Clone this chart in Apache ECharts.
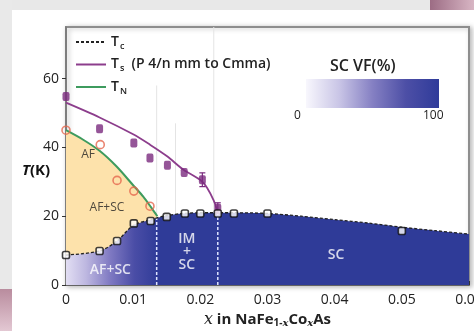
<!DOCTYPE html>
<html><head><meta charset="utf-8">
<script src="https://cdn.jsdelivr.net/npm/echarts@6/dist/echarts.min.js"></script>
<style>html,body{margin:0;padding:0;background:#fff}#c{width:474px;height:331px}</style>
</head><body><div id="c"></div>
<script>
// ---- data ----
const xTickValues = [0, 0.01, 0.02, 0.03, 0.04, 0.05, 0.06];
const xTickLabels = ['0', '0.01', '0.02', '0.03', '0.04', '0.05', '0.06'];
const yTickValues = [0, 20, 40, 60];
const yTickLabels = ['0', '20', '40', '60'];

const tcPoints = [[0,8.7],[0.005,9.9],[0.0076,12.8],[0.0101,17.9],[0.0126,18.6],[0.015,19.8],[0.0177,20.8],[0.02,20.8],[0.0226,20.8],[0.025,20.8],[0.03,20.8],[0.05,15.7]];
const tcCurve = [[0,8.7],[0.005,9.9],[0.0076,12.8],[0.01,17.3],[0.0126,19.0],[0.015,20.2],[0.0175,20.8],[0.02,21],[0.025,21],[0.03,20.8],[0.035,20],[0.04,19],[0.045,18],[0.05,16.8],[0.055,15.8],[0.06,14.8]];
const tsPoints = [[0,54.8],[0.005,45.4],[0.0101,41.3],[0.0125,36.9],[0.0151,34.8],[0.0176,32.7],[0.0203,30.6],[0.0226,22.3]];
const tsErrors = [[0.0203,30.6,2.0],[0.0226,22.3,1.6]];
const tsCurve = [[0,53],[0.005,48.7],[0.01,43.8],[0.0125,40.8],[0.015,37.5],[0.0175,33.5],[0.02,30.5],[0.021,28.3],[0.022,24.5],[0.0226,21]];
const tnPoints = [[0,45],[0.0051,40.8],[0.0076,30.4],[0.0101,27.3],[0.0125,22.9]];
const tnCurve = [[0,45],[0.0025,42.3],[0.005,39],[0.0075,34.5],[0.01,29],[0.0115,25.7],[0.0127,22.5],[0.0136,20]];
const phaseBoundaries = [[0.0135,19.4],[0.0226,21]];
const faintLines = [[0.0135,20,58],[0.0163,20,47],[0.022,21,75]];
const whiteLabelText = ['AF+SC', 'IM\n+\nSC', 'SC'];
const whiteLabelPos = [[0.0066,4.4],[0.018,9.6],[0.0402,8.7]];
const darkLabelText = ['AF', 'AF+SC'];
const darkLabelPos = [[0.0033,37.8],[0.0061,22.4]];
const colorbarLabels = ['0', '100'];

// ---- styles ----
const FONT = 'Open Sans';
const BLUE = '#2f3b98';
const PURPLE_LINE = '#8c3d8c';
const PURPLE_DOT = '#7a2a7e';
const GREEN = '#3e9b5e';
const ORANGE_PT = '#e5674d';
const ORANGE_FILL = '#fde2ab';

const chart = echarts.init(document.getElementById('c'), null, {renderer: 'canvas'});
const G = echarts.graphic;

function tickFmt(vals, labels) {
  return v => { const i = vals.findIndex(t => Math.abs(t - v) < 1e-9); return i >= 0 ? labels[i] : ''; };
}

const series = [];
series.push({type:'line', data: tnCurve, smooth: 0.3, symbol:'none', z:1,
  lineStyle:{opacity:0}, areaStyle:{color: ORANGE_FILL, opacity:1}, silent:true});
series.push({type:'line', data: tcCurve, smooth: 0.3, symbol:'none', z:2,
  lineStyle:{opacity:0},
  areaStyle:{opacity:1, color: new G.LinearGradient(0,0,1,0,[
    {offset:0, color:'#e2def3'},
    {offset:0.05, color:'#bdb7e0'},
    {offset:0.11, color:'#7f79c2'},
    {offset:0.17, color:'#4a4da6'},
    {offset:0.23, color:BLUE},
    {offset:1, color:BLUE}])}, silent:true});
phaseBoundaries.forEach(b => series.push({type:'line', data:[[b[0],0],[b[0],b[1]]], symbol:'none', z:3,
  lineStyle:{color:'#dfe4ff', width:1.5, type:[3,2]}, silent:true}));
faintLines.forEach(b => series.push({type:'line', data:[[b[0],b[1]],[b[0],b[2]]], symbol:'none', z:1,
  lineStyle:{color:'#e4e4e4', width:1}, silent:true}));
series.push({name:'Tc', type:'line', data: tcCurve, smooth:0.3, symbol:'none', z:4,
  itemStyle:{color:'#222'}, lineStyle:{color:'#222', width:1.3, type:[3,2]}});
series.push({name:'Ts', type:'line', data: tsCurve, smooth:0.3, symbol:'none', z:4,
  itemStyle:{color:PURPLE_LINE}, lineStyle:{color:PURPLE_LINE, width:1.8}});
series.push({name:'TN', type:'line', data: tnCurve, smooth:0.3, symbol:'none', z:4,
  itemStyle:{color:GREEN}, lineStyle:{color:GREEN, width:2}});
series.push({type:'custom', data: tsErrors, z:5, encode:{x:0,y:1},
  renderItem: (params, api) => {
    const x = api.value(0), y = api.value(1), e = api.value(2);
    const t = api.coord([x, y + e]), b = api.coord([x, y - e]);
    const w = 3, st = {stroke: PURPLE_DOT, lineWidth: 1.2};
    return {type:'group', children:[
      {type:'line', shape:{x1:t[0],y1:t[1],x2:b[0],y2:b[1]}, style:st},
      {type:'line', shape:{x1:t[0]-w,y1:t[1],x2:t[0]+w,y2:t[1]}, style:st},
      {type:'line', shape:{x1:b[0]-w,y1:b[1],x2:b[0]+w,y2:b[1]}, style:st}]};
  }});
series.push({type:'scatter', data: tsPoints, symbol:'roundRect', symbolSize:[7,9], z:6,
  itemStyle:{color:PURPLE_DOT}});
series.push({type:'scatter', data: tnPoints, symbol:'circle', symbolSize:8, z:6,
  itemStyle:{color:'rgba(0,0,0,0)', borderColor:ORANGE_PT, borderWidth:1.6}});
series.push({type:'scatter', data: tcPoints, symbol:'roundRect', symbolSize:7, z:6,
  itemStyle:{color:'#fff', borderColor:'#111', borderWidth:1.6}});
series.push({type:'scatter', symbolSize:0, z:7, silent:true,
  data: whiteLabelPos.map((p,i)=>({value:p, name:whiteLabelText[i]})),
  label:{show:true, position:'inside', formatter: p => p.name, color:'#fff',
    fontFamily:FONT, fontWeight:600, fontSize:14, lineHeight:13, align:'center', verticalAlign:'middle'}});
series.push({type:'scatter', symbolSize:0, z:7, silent:true,
  data: darkLabelPos.map((p,i)=>({value:p, name:darkLabelText[i]})),
  label:{show:true, position:'inside', formatter: p => p.name, color:'#222',
    fontFamily:FONT, fontWeight:400, fontSize:12, align:'center', verticalAlign:'middle'}});

const legendNames = {Tc:'{t|T}{s|c}', Ts:'{t|T}{s|s}{t|  (P 4/n mm to Cmma)}', TN:'{t|T}{s|N}'};

const option = {
  animation:false,
  backgroundColor:'#fff',
  grid:{left:66, right:5, top:27, bottom:46, outerBoundsMode:'none', containLabel:false,
    show:true, borderColor:'#8e8e8e', borderWidth:2,
    backgroundColor:'#fff', shadowColor:'rgba(0,0,0,0.25)', shadowBlur:5, shadowOffsetX:2, shadowOffsetY:1},
  xAxis:{type:'value', min:0, max:0.06, interval:0.01,
    axisLine:{show:true, onZero:false, lineStyle:{color:'#555', width:1.5}},
    axisTick:{show:true, inside:true, length:4, lineStyle:{color:'#333'}},
    splitLine:{show:false},
    axisLabel:{formatter: tickFmt(xTickValues, xTickLabels), color:'#222', fontFamily:FONT, fontSize:14, margin:8, showMaxLabel:true, hideOverlap:false},
    name:'{i|x}{b| in NaFe}{s|1-}{si|x}{b|Co}{si|x}{b|As}', nameLocation:'middle', nameGap:27,
    nameTextStyle:{rich:{
      i:{fontFamily:'DejaVu Serif', fontStyle:'italic', fontSize:16, color:'#222'},
      b:{fontFamily:FONT, fontWeight:700, fontSize:15, color:'#222'},
      s:{fontFamily:FONT, fontWeight:700, fontSize:10, color:'#222', padding:[6,0,0,0]},
      si:{fontFamily:'DejaVu Serif', fontStyle:'italic', fontWeight:700, fontSize:10, color:'#222', padding:[6,0,0,0]}}}},
  yAxis:{type:'value', min:0, max:75, interval:20,
    axisLine:{show:true, lineStyle:{color:'#777', width:1.5}},
    axisTick:{show:true, inside:false, length:4, lineStyle:{color:'#333'}},
    splitLine:{show:false},
    axisLabel:{formatter: tickFmt(yTickValues, yTickLabels), color:'#222', fontFamily:FONT, fontSize:14, margin:7, showMaxLabel:false}},
  legend:{data:['Tc','Ts','TN'], orient:'vertical', left:75, top:35, padding:0,
    itemWidth:30, itemHeight:14, itemGap:7,
    itemStyle:{opacity:0},
    formatter: n => legendNames[n],
    textStyle:{rich:{
      t:{fontFamily:FONT, fontWeight:600, fontSize:14, color:'#222', lineHeight:16},
      s:{fontFamily:FONT, fontWeight:600, fontSize:9, color:'#222', padding:[8,0,0,1]}}}},
  graphic:[
    {type:'rect', z:-100, shape:{x:0,y:0,width:474,height:10}, style:{fill:'#e8e8e8'}, silent:true},
    {type:'rect', z:-100, shape:{x:0,y:0,width:12,height:331}, style:{fill:'#e9e9e9'}, silent:true},
    {type:'rect', z:-99, shape:{x:0,y:289,width:12,height:42},
      style:{fill:new G.LinearGradient(0,0,0,1,[{offset:0,color:'#b98c9e'},{offset:1,color:'#e3c8d3'}])}, silent:true},
    {type:'rect', z:-99, shape:{x:430,y:0,width:44,height:10},
      style:{fill:new G.LinearGradient(0,0,1,0,[{offset:0,color:'#9c6c84'},{offset:1,color:'#d8b6c4'}])}, silent:true},
    {type:'rect', z:10, shape:{x:306,y:79,width:133,height:29},
      style:{fill:new G.LinearGradient(0,0,1,0,[
        {offset:0,color:'#f8f7fd'},{offset:0.25,color:'#c9c5e6'},{offset:0.5,color:'#8580c3'},
        {offset:0.75,color:'#4d4fa6'},{offset:1,color:'#2f3b9a'}])}, silent:true},
    {type:'text', z:10, left:330, top:58, style:{text:'SC VF(%)', fill:'#222', font:'600 16px "Open Sans"'}},
    {type:'text', z:10, left:294, top:110, style:{text:colorbarLabels[0], fill:'#222', font:'12px "Open Sans"'}},
    {type:'text', z:10, left:423, top:110, style:{text:colorbarLabels[1], fill:'#222', font:'12px "Open Sans"'}},
    {type:'text', z:10, left:22, top:163, style:{text:'{i|T}{b|(K)}', rich:{
      i:{font:'italic 700 15px "Open Sans"', fill:'#111'},
      b:{font:'700 15px "Open Sans"', fill:'#111'}}}}
  ],
  series: series
};
chart.setOption(option);
</script></body></html>
